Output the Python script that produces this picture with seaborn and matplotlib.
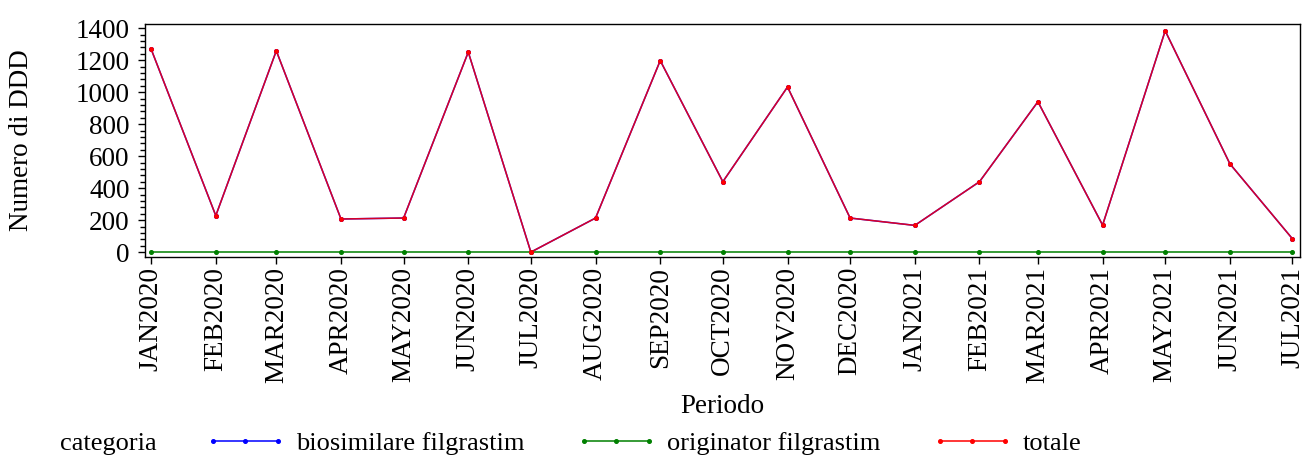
import pandas as pd
import seaborn as sns
import matplotlib.pyplot as plt
import matplotlib.dates as mdates
from matplotlib.ticker import MultipleLocator, AutoMinorLocator
from matplotlib.lines import Line2D

# -----------------------------------------
# Data
# -----------------------------------------
periods = ["JAN2020", "FEB2020", "MAR2020", "APR2020", "MAY2020", "JUN2020",
           "JUL2020", "AUG2020", "SEP2020", "OCT2020", "NOV2020", "DEC2020",
           "JAN2021", "FEB2021", "MAR2021", "APR2021", "MAY2021", "JUN2021",
           "JUL2021"]
totale = [1269, 228, 1258, 207, 213, 1250, 0, 213, 1197, 440, 1032, 213,
          167, 440, 940, 169, 1383, 552, 83]
biosimilare = list(totale)
originator = [0] * len(periods)

categories = ["biosimilare filgrastim", "originator filgrastim", "totale"]
colors = {"biosimilare filgrastim": "#0000ff",
          "originator filgrastim": "#008000",
          "totale": "#ff0000"}

dates = pd.to_datetime(periods, format="%b%Y")
df = pd.concat([
    pd.DataFrame({"Periodo": dates, "DDD": biosimilare, "categoria": categories[0]}),
    pd.DataFrame({"Periodo": dates, "DDD": originator, "categoria": categories[1]}),
    pd.DataFrame({"Periodo": dates, "DDD": totale, "categoria": categories[2]}),
])

# -----------------------------------------
# Plot
# -----------------------------------------
sns.set_style("ticks")
plt.rcParams["font.family"] = ["Liberation Serif", "DejaVu Serif"]
plt.rcParams["text.color"] = "black"
plt.rcParams["axes.labelcolor"] = "black"
plt.rcParams["xtick.color"] = "black"
plt.rcParams["ytick.color"] = "black"
plt.rcParams["axes.edgecolor"] = "black"
FS = 19.5
LEG_FS = 19

fig = plt.figure(figsize=(13.05, 4.55), dpi=100)
ax = fig.add_axes([0.111, 0.435, 0.885, 0.512])

for cat in categories:
    sub = df[df["categoria"] == cat]
    alpha = 0.85 if cat == "totale" else 1.0
    sns.lineplot(data=sub, x="Periodo", y="DDD", ax=ax, color=colors[cat],
                 linewidth=1.1, alpha=alpha, legend=False)
    ax.plot(sub["Periodo"], sub["DDD"], linestyle="none", marker="o",
            markersize=2.6, color=colors[cat], zorder=3)

ax.set_xlim(dates[0] - pd.Timedelta(days=3), dates[-1] + pd.Timedelta(days=3.5))
ax.set_ylim(-31, 1425)
ax.set_xticks(dates)
ax.xaxis.set_major_formatter(mdates.DateFormatter("%b%Y"))
ax.set_xticklabels(periods, rotation=90)
ax.yaxis.set_major_locator(MultipleLocator(200))
ax.yaxis.set_minor_locator(AutoMinorLocator(5))
ax.tick_params(axis="both", which="major", labelsize=FS, length=5, width=1, direction="out")
ax.tick_params(axis="y", which="minor", length=3.5, width=1, direction="out")
ax.tick_params(axis="y", pad=6)
ax.tick_params(axis="x", pad=2)
for sp in ax.spines.values():
    sp.set_linewidth(1.0)
    sp.set_visible(True)

ax.set_xlabel("Periodo", fontsize=FS, labelpad=8)
ax.set_ylabel("Numero di DDD", fontsize=FS, labelpad=30)

# Legend row at the bottom
fig.text(0.046, 0.0104, "categoria", fontsize=LEG_FS, ha="left", va="baseline")
handles = [Line2D([], [], color=colors[cat], linewidth=1.1, marker="o",
                  markersize=2.6, label=cat) for cat in categories]
fig.legend(handles=handles, loc="lower left", bbox_to_anchor=(0.139, -0.053),
           ncol=3, frameon=False, fontsize=LEG_FS, numpoints=3,
           handlelength=3.05, handletextpad=0.4, columnspacing=1.95)

plt.savefig("out.png", dpi=100)
plt.close()
